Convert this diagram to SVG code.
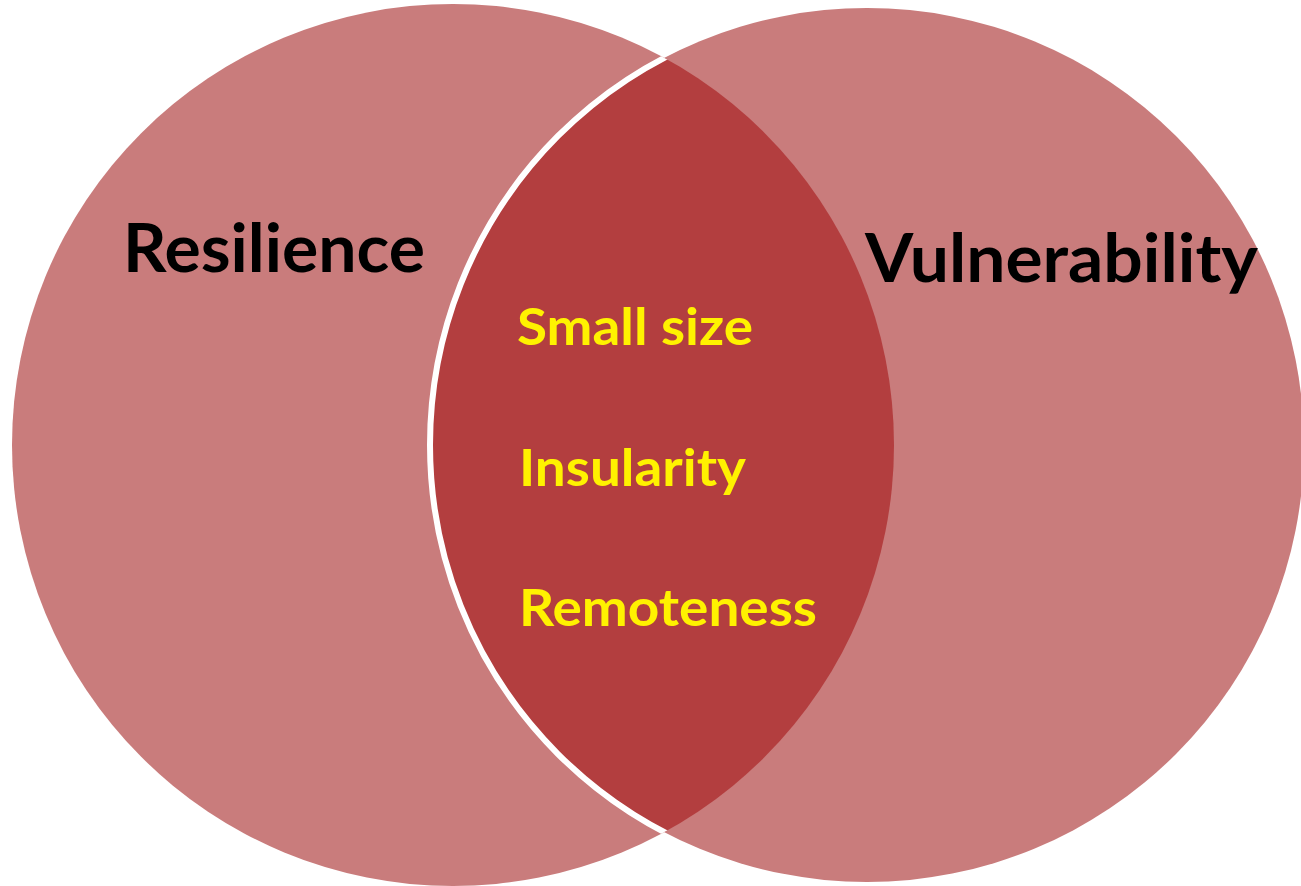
<svg xmlns="http://www.w3.org/2000/svg" width="1301" height="886" viewBox="0 0 1301 886">
  <style>
    .set { fill: #C97C7C; }
    .overlap { fill: #B33E3F; }
    .edge { fill: none; stroke: #FFFFFF; stroke-width: 6; }
    .title { font-family: Lato, "Liberation Sans", sans-serif; font-weight: bold; font-size: 66px; fill: #000000; }
    .item { font-family: Lato, "Liberation Sans", sans-serif; font-weight: bold; font-size: 52px; fill: #FFF200; }
  </style>
  <defs>
    <clipPath id="inLeft">
      <circle cx="453" cy="445" r="441"/>
    </clipPath>
  </defs>
  <rect x="0" y="0" width="1301" height="886" fill="#FFFFFF"/>

  <g id="resilience">
    <circle class="set" cx="453" cy="445" r="441"/>
    <text class="title" x="123" y="272" textLength="302" lengthAdjust="spacingAndGlyphs">Resilience</text>
  </g>

  <g id="vulnerability">
    <circle class="set" cx="867" cy="445" r="437"/>
    <text class="title" x="865" y="282" textLength="393" lengthAdjust="spacingAndGlyphs">Vulnerability</text>
  </g>

  <g id="shared">
    <!-- intersection of both sets, outlined in white on the Vulnerability side -->
    <circle class="overlap" cx="867" cy="445" r="437" clip-path="url(#inLeft)"/>
    <circle class="edge" cx="867" cy="445" r="437" clip-path="url(#inLeft)"/>
    <text class="item" x="517" y="345" textLength="236" lengthAdjust="spacingAndGlyphs">Small size</text>
    <text class="item" x="519" y="486" textLength="227" lengthAdjust="spacingAndGlyphs">Insularity</text>
    <text class="item" x="519" y="626" textLength="298" lengthAdjust="spacingAndGlyphs">Remoteness</text>
  </g>

  <g id="connectors"></g>
</svg>
